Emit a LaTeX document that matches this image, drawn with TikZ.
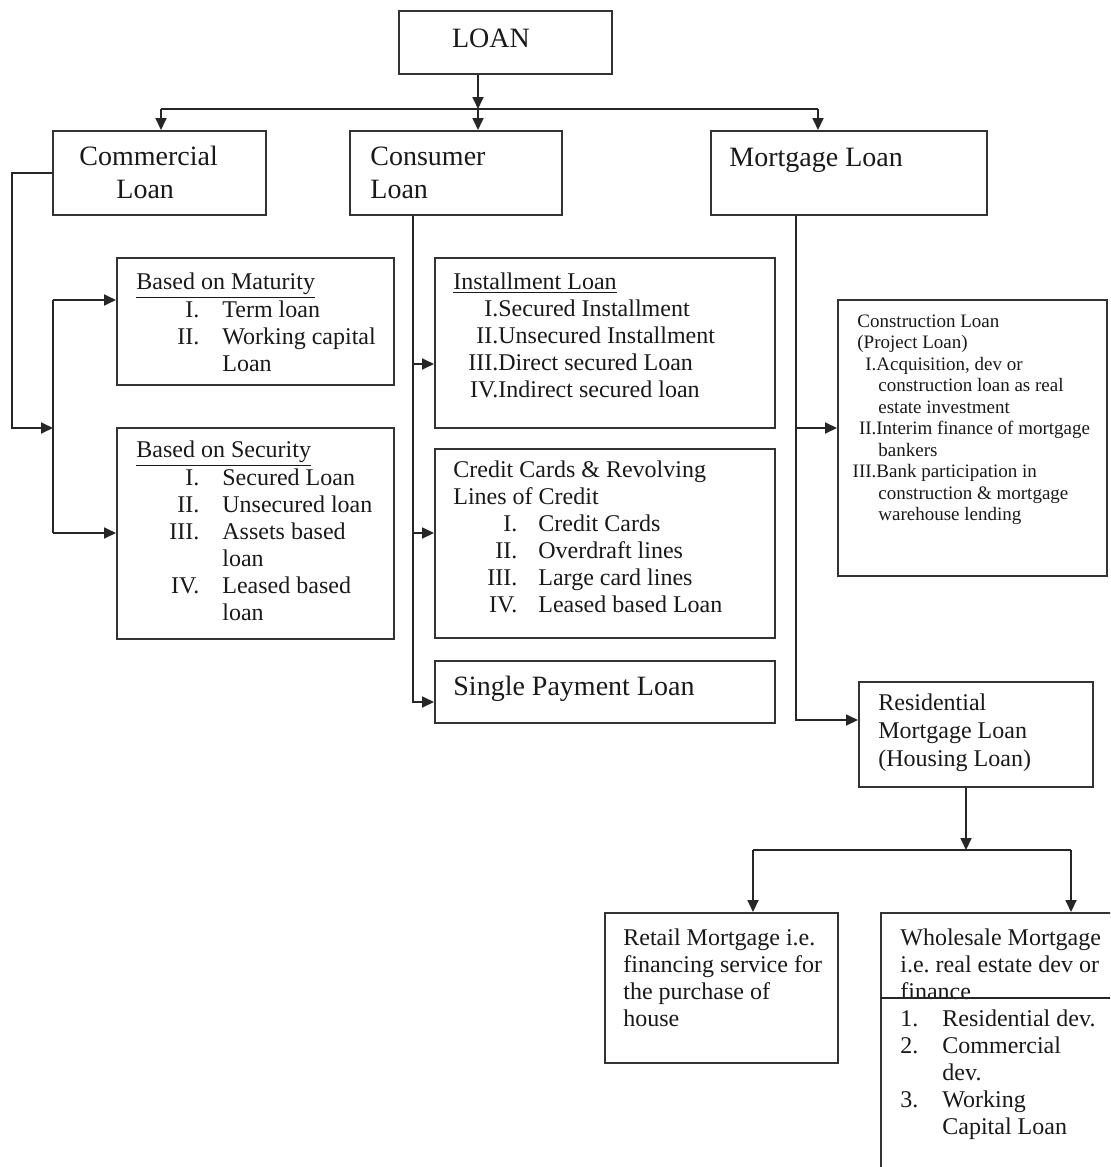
\documentclass[tikz,border=0pt]{standalone}
\usepackage{fontspec}
\setmainfont{Liberation Serif}
\usetikzlibrary{fit}
\usetikzlibrary{arrows.meta}
\frenchspacing
\tikzstyle{box}=[draw=black!80, line width=1pt, inner sep=0pt]
\tikzstyle{link}=[black!85, line width=0.9pt]
\tikzstyle{arrow}=[link, -{Triangle[length=6pt, width=5.5pt]}]
\tikzstyle{txt}=[anchor=base west, inner sep=0pt, text=black!90]
\tikzstyle{bigtext}=[font=\fontsize{14}{16.5}\selectfont]
\tikzstyle{midtext}=[font=\fontsize{12}{13.5}\selectfont]
\tikzstyle{smalltext}=[font=\fontsize{9.5}{10.75}\selectfont]
\newcommand{\itemno}[3]{\makebox[#1][r]{#2}\hspace{#3}}
\newcommand{\textlines}[1]{\begin{tabular}[t]{@{}l@{}}#1\end{tabular}}

\begin{document}
\begin{tikzpicture}[x=0.5pt, y=-0.5pt]
    \useasboundingbox (0,0) rectangle (1110,1167);
    \clip (0,0) rectangle (1110,1167);

    \node[box, fit={(399,11) (612,74)}] (loan) {};
    \node[box, fit={(53,131) (266,215)}] (commercial) {};
    \node[box, fit={(350,131) (562,215)}] (consumer) {};
    \node[box, fit={(711,131) (987,215)}] (mortgage) {};
    \node[box, fit={(117,258) (394,385)}] (maturity) {};
    \node[box, fit={(117,428) (394,639)}] (security) {};
    \node[box, fit={(435,258) (775,428)}] (installment) {};
    \node[box, fit={(435,449) (775,638)}] (credit) {};
    \node[box, fit={(435,661) (775,723)}] (single) {};
    \node[box, fit={(838,300) (1107,576)}] (construction) {};
    \node[box, fit={(859,682) (1093,787)}] (residential) {};
    \node[box, fit={(605,913) (838,1063)}] (retail) {};
    \node[box, fit={(881,913) (1114,1175)}] (wholesale) {};

    \node[txt, bigtext, anchor=center] (loantext) at (491,38) {LOAN};
    \node[txt, bigtext] (commercialtext) at (79,165) {\textlines{Commercial\\\hspace*{18.5pt}Loan}};
    \node[txt, bigtext] (consumertext) at (370,165) {\textlines{Consumer\\Loan}};
    \node[txt, bigtext] (mortgagetext) at (729,166) {Mortgage Loan};
    \node[txt, midtext] (maturitytext) at (136,289) {\textlines{\underline{Based on Maturity}\\
      \itemno{31.5pt}{I.}{11.5pt}Term loan\\
      \itemno{31.5pt}{II.}{11.5pt}Working capital\\
      \hspace*{43pt}Loan}};
    \node[txt, midtext] (securitytext) at (136,457) {\textlines{\underline{Based on Security}\\
      \itemno{31.5pt}{I.}{11.5pt}Secured Loan\\
      \itemno{31.5pt}{II.}{11.5pt}Unsecured loan\\
      \itemno{31.5pt}{III.}{11.5pt}Assets based\\
      \hspace*{43pt}loan\\
      \itemno{31.5pt}{IV.}{11.5pt}Leased based\\
      \hspace*{43pt}loan}};
    \node[txt, midtext] (installmenttext) at (453,289) {\textlines{\underline{Installment Loan}\\
      \itemno{22.5pt}{I.}{0pt}Secured Installment\\
      \itemno{22.5pt}{II.}{0pt}Unsecured Installment\\
      \itemno{22.5pt}{III.}{0pt}Direct secured Loan\\
      \itemno{22.5pt}{IV.}{0pt}Indirect secured loan}};
    \node[txt, midtext] (credittext) at (453,477) {\textlines{Credit Cards \& Revolving\\
      Lines of Credit\\
      \itemno{32pt}{I.}{10.5pt}Credit Cards\\
      \itemno{32pt}{II.}{10.5pt}Overdraft lines\\
      \itemno{32pt}{III.}{10.5pt}Large card lines\\
      \itemno{32pt}{IV.}{10.5pt}Leased based Loan}};
    \node[txt, bigtext] (singletext) at (453,695) {Single Payment Loan};
    \node[txt, smalltext] (constructiontext) at (857,327) {\textlines{Construction Loan\\
      (Project Loan)\\
      \itemno{9.5pt}{I.}{0pt}Acquisition, dev or\\
      \hspace*{10.5pt}construction loan as real\\
      \hspace*{10.5pt}estate investment\\
      \itemno{9.5pt}{II.}{0pt}Interim finance of mortgage\\
      \hspace*{10.5pt}bankers\\
      \itemno{9.5pt}{III.}{0pt}Bank participation in\\
      \hspace*{10.5pt}construction \& mortgage\\
      \hspace*{10.5pt}warehouse lending}};
    \node[txt, font=\fontsize{12}{14}\selectfont] (residentialtext) at (878,710) {\textlines{Residential\\
      Mortgage Loan\\
      (Housing Loan)}};
    \node[txt, midtext] (retailtext) at (623,945) {\textlines{Retail Mortgage i.e.\\
      financing service for\\
      the purchase of\\
      house}};
    \node[txt, midtext] (wholesaletext) at (900,945) {\textlines{Wholesale Mortgage\\
      i.e. real estate dev or\\
      finance\\
      \makebox[21pt][l]{1.}Residential dev.\\
      \makebox[21pt][l]{2.}Commercial\\
      \hspace*{21pt}dev.\\
      \makebox[21pt][l]{3.}Working\\
      \hspace*{21pt}Capital Loan}};

    \coordinate (wholesaleline) at (881,998);
    \draw[link] (wholesaleline) -- (wholesaleline -| wholesale.east);

    \coordinate (split) at (478,109);
    \coordinate (busleft) at (161,109);
    \coordinate (busright) at (818,109);
    \draw[arrow] (split |- loan.south) -- (split);
    \draw[arrow] (split) -- (split |- consumer.north);
    \draw[link] (busleft) -- (busright);
    \draw[arrow] (busleft) -- (busleft |- commercial.north);
    \draw[arrow] (busright) -- (busright |- mortgage.north);

    \coordinate (comleft) at (12,428);
    \coordinate (comjoin) at (53,428);
    \coordinate (maturityin) at (53,300);
    \coordinate (securityin) at (53,533);
    \draw[arrow] (commercial.west) -| (comleft) -- (comjoin);
    \draw[link] (maturityin) -- (securityin);
    \draw[arrow] (maturityin) -- (maturityin -| maturity.west);
    \draw[arrow] (securityin) -- (securityin -| security.west);

    \coordinate (conbus) at (413,702);
    \coordinate (installmentin) at (413,364);
    \coordinate (creditin) at (413,533);
    \draw[arrow] (conbus |- consumer.south) |- (single.west |- conbus);
    \draw[arrow] (installmentin) -- (installmentin -| installment.west);
    \draw[arrow] (creditin) -- (creditin -| credit.west);

    \coordinate (morbus) at (796,720);
    \coordinate (constructionin) at (796,428);
    \draw[arrow] (morbus |- mortgage.south) |- (residential.west |- morbus);
    \draw[arrow] (constructionin) -- (constructionin -| construction.west);

    \coordinate (ressplit) at (966,850);
    \coordinate (retailin) at (753,850);
    \coordinate (wholesalein) at (1071,850);
    \draw[arrow] (ressplit |- residential.south) -- (ressplit);
    \draw[link] (retailin) -- (wholesalein);
    \draw[arrow] (retailin) -- (retailin |- retail.north);
    \draw[arrow] (wholesalein) -- (wholesalein |- wholesale.north);
\end{tikzpicture}
\end{document}
